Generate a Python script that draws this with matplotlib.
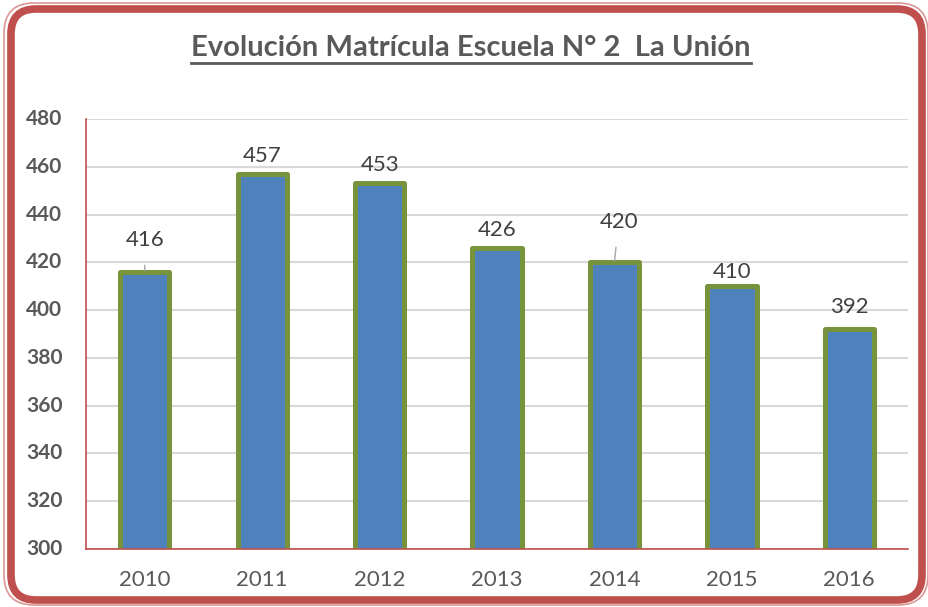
import matplotlib
matplotlib.use('Agg')
import matplotlib.pyplot as plt
from matplotlib.patches import FancyBboxPatch
from matplotlib.lines import Line2D

years = ['2010', '2011', '2012', '2013', '2014', '2015', '2016']
enrolment = [416, 457, 453, 426, 420, 410, 392]
yticks = [300, 320, 340, 360, 380, 400, 420, 440, 460, 480]
title = 'Evolución Matrícula Escuela N° 2  La Unión'

plt.rcParams['font.family'] = 'Lato'
grey_txt = '#595959'
red = '#C0504D'

fig = plt.figure(figsize=(9.29, 6.07), dpi=100)
ax = fig.add_axes([0.0926, 0.0956, 0.8848, 0.7084])

x = list(range(len(years)))
ax.bar(x, enrolment, width=0.42, color='#4F81BD', edgecolor='#77933C',
       linewidth=3.6, joinstyle='round', zorder=3)
ax.set_xlim(-0.5, len(years) - 0.5)
ax.set_ylim(300, 480)
ax.set_yticks(yticks)
ax.set_xticks(x, years)
ax.grid(axis='y', color='#D9D9D9', linewidth=1.5, zorder=0)
ax.tick_params(length=0, colors=grey_txt)
ax.tick_params(axis='y', labelleft=False)
ax.tick_params(axis='x', pad=15, labelsize=16)
for side in ['top', 'right']:
    ax.spines[side].set_visible(False)
for side in ['left', 'bottom']:
    ax.spines[side].set_color(red)
    ax.spines[side].set_linewidth(1.2)
    ax.spines[side].set_zorder(4)

# bold y tick labels, placed at the tick values
for v in yticks:
    ax.annotate(str(v), xy=(0, v), xycoords=('axes fraction', 'data'),
                xytext=(-17, 0), textcoords='offset points', ha='right',
                va='center', fontsize=15, family='Lato', fontweight='bold',
                color=grey_txt, annotation_clip=False)

# data labels (offsets in points; two labels are pulled away with leader lines)
label_dx = [0, 0, 0, 0, 3, 0, 0]
label_dy = [23, 13, 13, 13, 29, 10, 16]
for i, v in enumerate(enrolment):
    leader = dict(arrowstyle='-', color='#A6A6A6', lw=1, shrinkA=9, shrinkB=1) \
        if label_dy[i] > 20 else None
    ax.annotate(str(v), xy=(i, v), xytext=(label_dx[i], label_dy[i]),
                textcoords='offset points', ha='center', va='center',
                fontsize=16, color='#404040', arrowprops=leader, zorder=5)

# title with underline
t = fig.text(0.507, 0.921, title, ha='center', va='center', fontsize=21,
             family='Lato', fontweight='bold', color=grey_txt)
fig.canvas.draw()
bb = t.get_window_extent().transformed(fig.transFigure.inverted())
fig.add_artist(Line2D([bb.x0, bb.x1], [bb.y0 - 0.004, bb.y0 - 0.004],
                      transform=fig.transFigure, color=grey_txt, lw=2))

# rounded double frame
W, H = 9.29, 6.07
fig.add_artist(FancyBboxPatch((0.04, 0.02), W - 0.05, H - 0.05,
                              boxstyle='round,pad=0,rounding_size=0.3',
                              transform=fig.dpi_scale_trans, fill=False,
                              edgecolor='#D99795', linewidth=1.2))
fig.add_artist(FancyBboxPatch((0.11, 0.07), W - 0.18, H - 0.16,
                              boxstyle='round,pad=0,rounding_size=0.25',
                              transform=fig.dpi_scale_trans, fill=False,
                              edgecolor=red, linewidth=5.5))

fig.savefig('out.png', dpi=100)
